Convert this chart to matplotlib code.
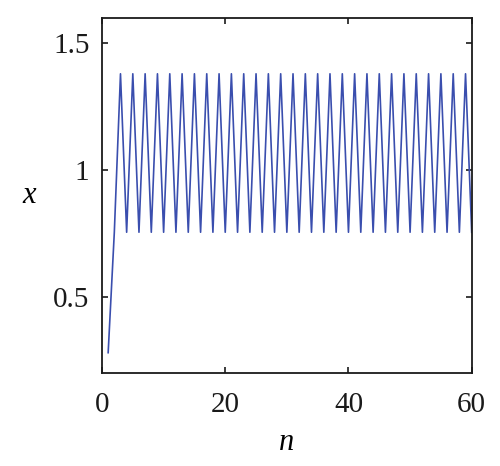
import matplotlib
matplotlib.use("Agg")
import matplotlib.pyplot as plt

# Data
n_start = [1, 2]
x_start = [0.28, 0.755]
x_high = 1.38   # value at odd n >= 3
x_low = 0.755   # value at even n >= 4
n_values = list(range(1, 61))
x_values = x_start + [x_high if k % 2 == 1 else x_low for k in range(3, 61)]

x_ticks = [0, 20, 40, 60]
y_ticks = [0.5, 1, 1.5]
y_tick_labels = ["0.5", "1", "1.5"]

plt.rcParams['font.family'] = ['Liberation Serif', 'DejaVu Serif']

fig = plt.figure(figsize=(5.0, 4.66), dpi=100)
ax = fig.add_axes([0.204, 0.1996, 0.7394, 0.7618])
ax.plot(n_values, x_values, color='#3a4eae', lw=1.2)

ax.set_xlim(0, 60)
ax.set_ylim(0.2, 1.6)
ax.set_xticks(x_ticks)
ax.set_xticklabels([str(t) for t in x_ticks])
ax.set_yticks(y_ticks)
ax.set_yticklabels(y_tick_labels)
ax.tick_params(direction='in', top=True, right=True, length=4, width=1.2,
               labelsize=21, colors='#1a1a1a')
ax.tick_params(axis='x', pad=14)
ax.tick_params(axis='y', pad=9)
for s in ax.spines.values():
    s.set_linewidth(1.3)
    s.set_color('#1a1a1a')

ax.set_xlabel('n', fontsize=22, style='italic', labelpad=7)
ax.set_ylabel('x', fontsize=22, style='italic', rotation=0, labelpad=17, va='center')

fig.savefig('out.png', dpi=100)
